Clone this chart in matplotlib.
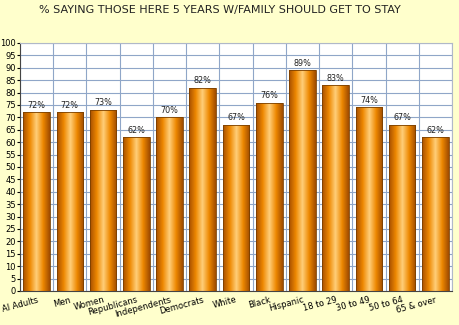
import matplotlib
matplotlib.use("Agg")
import matplotlib.pyplot as plt
import matplotlib.transforms as mtransforms
import numpy as np
from matplotlib.colors import LinearSegmentedColormap

categories = ["Al Adults", "Men", "Women", "Republicans", "Independents", "Democrats",
              "White", "Black", "Hispanic", "18 to 29", "30 to 49", "50 to 64", "65 & over"]
values = [72, 72, 73, 62, 70, 82, 67, 76, 89, 83, 74, 67, 62]
yticks = list(range(0, 101, 5))

bg = "#FFFFCC"
grid_col = "#8FA6C8"
bar_cmap = LinearSegmentedColormap.from_list(
    "bar", ["#A85000", "#EE8800", "#FFCF7A", "#EE8800", "#A04C00"])

fig = plt.figure(figsize=(4.6, 3.25), dpi=100, facecolor=bg)
ax = fig.add_axes([20 / 460, 34 / 325, 432 / 460, 248 / 325])
ax.set_facecolor("white")

x = np.arange(len(categories))

# grid
for yv in yticks:
    ax.axhline(yv, color=grid_col, lw=0.8, zorder=0)
for xv in np.arange(-0.5, len(categories), 1.0):
    ax.axvline(xv, color=grid_col, lw=0.8, zorder=0)

bars = ax.bar(x, values, width=0.8, color="none", edgecolor="#7A4000", lw=0.6, zorder=3)
grad = np.linspace(0, 1, 64).reshape(1, -1)
for b, v in zip(bars, values):
    x0 = b.get_x()
    im = ax.imshow(grad, cmap=bar_cmap, aspect="auto", zorder=2,
                   extent=[x0, x0 + b.get_width(), 0, v])
    im.set_clip_path(b)
    ax.text(b.get_x() + b.get_width() / 2, v + 1, f"{v}%", ha="center", va="bottom",
            fontsize=5.8, color="#222222", zorder=4)
ax.set_xlim(-0.5, len(categories) - 0.5)
ax.set_ylim(0, 100)

ax.set_yticks(yticks)
ax.set_yticklabels([str(t) for t in yticks], fontsize=6)
ax.set_xticks(x)
ax.set_xticklabels(categories, fontsize=6, rotation=15, ha="right", va="top",
                   rotation_mode="anchor")
shift = mtransforms.ScaledTranslation(3 / 100, 0, fig.dpi_scale_trans)
for lab in ax.get_xticklabels():
    lab.set_transform(lab.get_transform() + shift)
ax.tick_params(axis="x", length=0, pad=3)
ax.tick_params(axis="y", length=2, pad=1)
for s in ["top", "right"]:
    ax.spines[s].set_color("#B0B8C8")
ax.spines["left"].set_color("#444444")
ax.spines["bottom"].set_color("#444444")

fig.text(220 / 460, 1 - 10 / 325, "% SAYING THOSE HERE 5 YEARS W/FAMILY SHOULD GET TO STAY",
         ha="center", va="center", fontsize=8, color="#222222")

fig.savefig("out.png", dpi=100, facecolor=bg)
